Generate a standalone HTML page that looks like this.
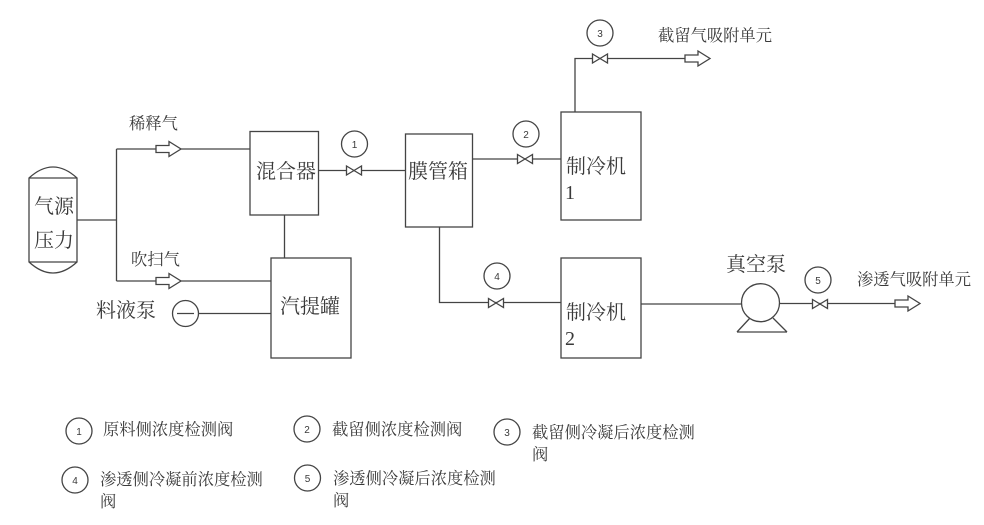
<!DOCTYPE html>
<html lang="zh">
<head>
<meta charset="utf-8">
<style>
html,body{margin:0;padding:0;background:#fff;width:984px;height:525px;overflow:hidden}
svg{display:block}
.l{fill:none;stroke:#444;stroke-width:1.3}
.w{fill:#fff;stroke:#444;stroke-width:1.3}
text{font-family:"Liberation Serif","Noto Serif CJK SC",serif;fill:#3a3a3a}
.b{font-size:20px}
.m{font-size:16.3px}
.n{font-family:"Liberation Sans",sans-serif;font-size:10px;text-anchor:middle}
</style>
</head>
<body>
<svg width="984" height="525" viewBox="0 0 984 525" xmlns="http://www.w3.org/2000/svg">
<defs>
<path id="arr" class="w" d="M0 -3.5H13V-7.5L25 0L13 7.5V3.5H0Z"/>
<path id="val" class="w" d="M-7.5 -4.5L7.5 4.5V-4.5L-7.5 4.5Z"/>
</defs>

<!-- connectors -->
<path class="l" d="M77 220H116.5M116.5 149V281M116.5 149H250M116.5 281H271"/>
<path class="l" d="M318.5 170.5H405.5M284.5 215V258M198.5 313.5H271"/>
<path class="l" d="M472.5 159H561M575 112V58.5H685"/>
<path class="l" d="M439.5 227V302.5H561M641 304H742M780 303.5H895"/>

<!-- tank -->
<path class="w" d="M29 178Q53 156 77 178V262Q53 284 29 262Z"/>
<path class="l" d="M29 178H77M29 262H77"/>

<!-- boxes -->
<rect class="w" x="250" y="131.5" width="68.5" height="83.5"/>
<rect class="w" x="271" y="258" width="80" height="100"/>
<rect class="w" x="405.5" y="134" width="67" height="93"/>
<rect class="w" x="561" y="112" width="80" height="108"/>
<rect class="w" x="561" y="258" width="80" height="100"/>

<!-- arrows -->
<use href="#arr" x="156" y="149"/>
<use href="#arr" x="156" y="281"/>
<use href="#arr" x="685" y="58.5"/>
<use href="#arr" x="895" y="303.5"/>

<!-- valves -->
<use href="#val" x="354" y="170.5"/>
<use href="#val" x="525" y="159"/>
<use href="#val" x="600" y="58.5"/>
<use href="#val" x="496" y="303"/>
<use href="#val" x="820" y="304"/>

<!-- feed pump -->
<circle class="w" cx="185.5" cy="313.5" r="13"/>
<path class="l" d="M177 313.5H194"/>

<!-- vacuum pump -->
<path class="l" d="M737 332H787M737 332L750 318M787 332L773 318"/>
<circle class="w" cx="760.5" cy="302.7" r="19"/>

<!-- numbered circles -->
<g class="l">
<circle cx="354.5" cy="144" r="13"/>
<circle cx="526" cy="134" r="13"/>
<circle cx="600" cy="33" r="13"/>
<circle cx="497" cy="276" r="13"/>
<circle cx="818" cy="280" r="13"/>
<circle cx="79" cy="431" r="13"/>
<circle cx="307" cy="429" r="13"/>
<circle cx="507" cy="432" r="13"/>
<circle cx="75" cy="480" r="13"/>
<circle cx="307.5" cy="478" r="13"/>
</g>
<text class="n" x="354.5" y="148">1</text>
<text class="n" x="526" y="138">2</text>
<text class="n" x="600" y="37">3</text>
<text class="n" x="497" y="280">4</text>
<text class="n" x="818" y="284">5</text>
<text class="n" x="79" y="435">1</text>
<text class="n" x="307" y="433">2</text>
<text class="n" x="507" y="436">3</text>
<text class="n" x="75" y="484">4</text>
<text class="n" x="307.5" y="482">5</text>

<!-- large labels -->
<text class="b" x="34" y="213">气源</text>
<text class="b" x="34" y="247">压力</text>
<text class="b" x="256" y="178">混合器</text>
<text class="b" x="280" y="313">汽提罐</text>
<text class="b" x="96" y="317">料液泵</text>
<text class="b" x="408" y="178">膜管箱</text>
<text class="b" x="566" y="173">制冷机</text>
<text class="b" x="565" y="199">1</text>
<text class="b" x="566" y="319">制冷机</text>
<text class="b" x="565" y="345">2</text>
<text class="b" x="726" y="271">真空泵</text>

<!-- medium labels -->
<text class="m" x="129" y="129">稀释气</text>
<text class="m" x="131" y="265">吹扫气</text>
<text class="m" x="658" y="41">截留气吸附单元</text>
<text class="m" x="857" y="285">渗透气吸附单元</text>

<!-- legend -->
<text class="m" x="103" y="435">原料侧浓度检测阀</text>
<text class="m" x="332" y="435">截留侧浓度检测阀</text>
<text class="m" x="532" y="438">截留侧冷凝后浓度检测</text>
<text class="m" x="532" y="460">阀</text>
<text class="m" x="100" y="485">渗透侧冷凝前浓度检测</text>
<text class="m" x="100" y="507">阀</text>
<text class="m" x="333" y="484">渗透侧冷凝后浓度检测</text>
<text class="m" x="333" y="506">阀</text>
</svg>
</body>
</html>
